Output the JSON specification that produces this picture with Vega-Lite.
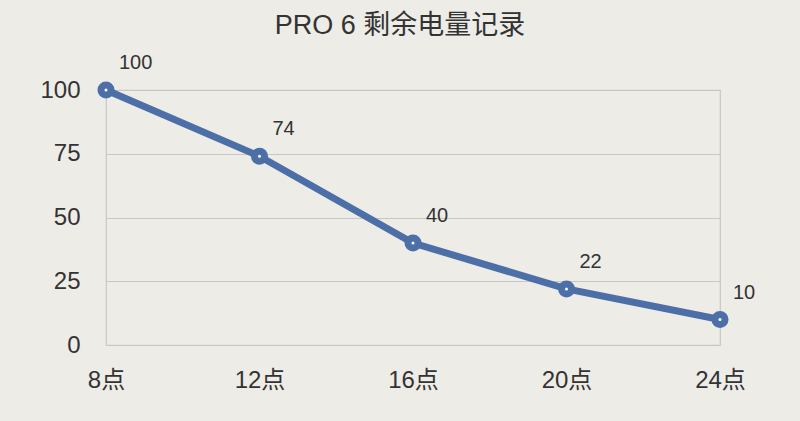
{
  "$schema": "https://vega.github.io/schema/vega-lite/v6.json",
  "width": 614,
  "height": 255,
  "autosize": {"type": "none"},
  "padding": {"left": 106, "top": 90, "right": 80, "bottom": 76},
  "background": "#eeece7",
  "title": {
    "text": "PRO 6 剩余电量记录",
    "font": "Liberation Sans, Noto Sans CJK SC",
    "fontSize": 27,
    "fontWeight": "normal",
    "color": "#333333",
    "offset": 13,
    "dx": -13
  },
  "config": {
    "view": {"stroke": "#c9c7c3", "strokeWidth": 1.2},
    "font": "Liberation Sans, Noto Sans CJK SC"
  },
  "data": {
    "values": [
      {"time": "8点", "value": 100},
      {"time": "12点", "value": 74},
      {"time": "16点", "value": 40},
      {"time": "20点", "value": 22},
      {"time": "24点", "value": 10}
    ]
  },
  "encoding": {
    "x": {
      "field": "time",
      "type": "ordinal",
      "sort": null,
      "scale": {"type": "point", "padding": 0},
      "axis": {
        "title": null,
        "labelAngle": 0,
        "labelFontSize": 24,
        "labelColor": "#333333",
        "labelPadding": 23,
        "ticks": false,
        "domain": false,
        "grid": false
      }
    },
    "y": {
      "field": "value",
      "type": "quantitative",
      "scale": {"domain": [0, 100], "nice": false},
      "axis": {
        "title": null,
        "values": [0, 25, 50, 75, 100],
        "labelFontSize": 24,
        "labelColor": "#333333",
        "labelPadding": 26,
        "ticks": false,
        "domain": false,
        "grid": true,
        "gridColor": "#c9c7c3",
        "gridWidth": 1.2
      }
    }
  },
  "layer": [
    {"mark": {"type": "line", "color": "#4b6fa6", "strokeWidth": 7}},
    {"mark": {"type": "point", "filled": true, "color": "#4b6fa6", "size": 290, "opacity": 1}},
    {"mark": {"type": "point", "filled": true, "color": "#ffffff", "size": 9, "opacity": 1}},
    {
      "mark": {"type": "text", "align": "left", "baseline": "middle", "dx": 13, "dy": -27, "fontSize": 20, "color": "#333333"},
      "encoding": {"text": {"field": "value", "type": "quantitative"}}
    }
  ]
}
